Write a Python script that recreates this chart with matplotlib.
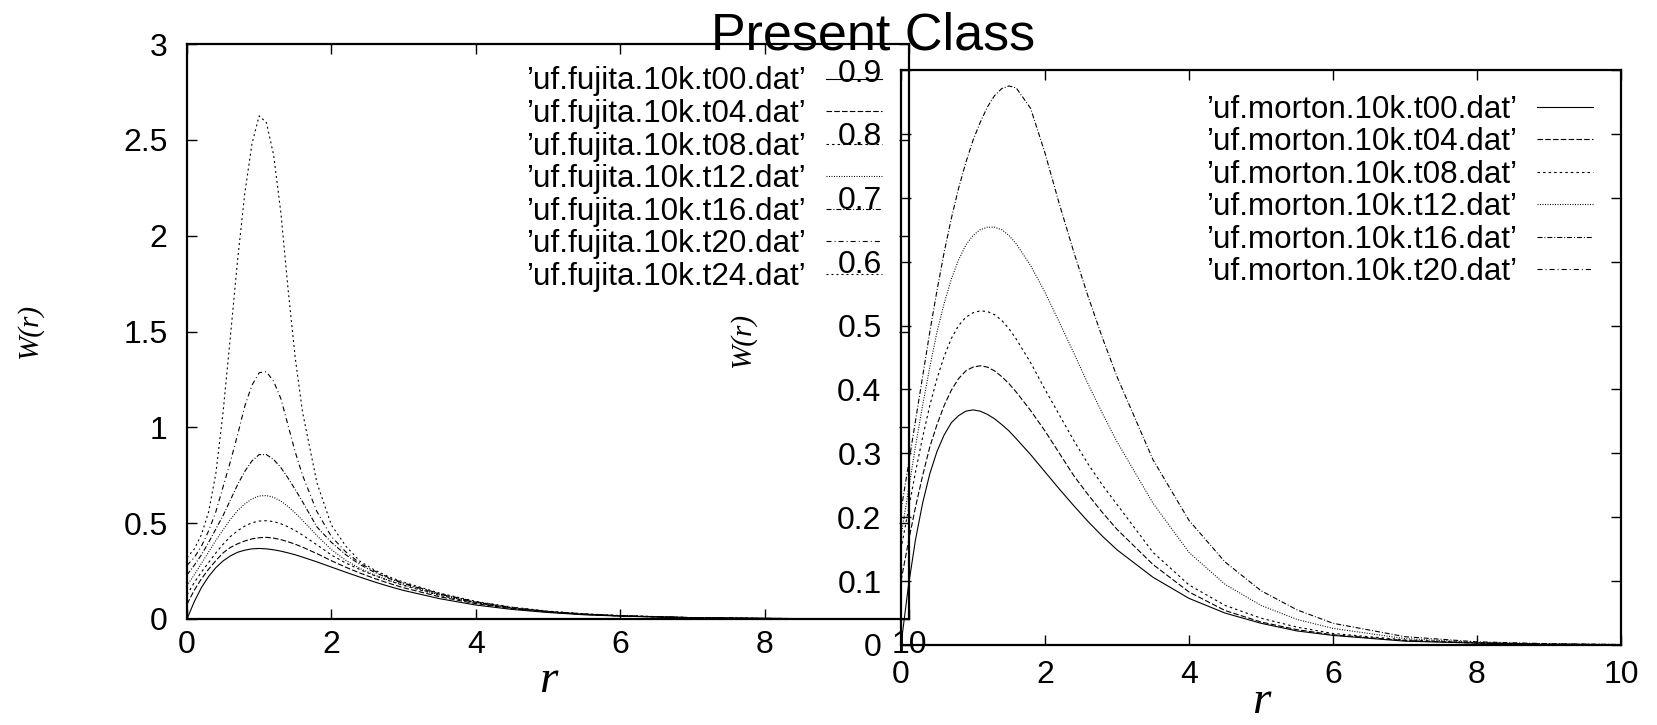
import matplotlib.pyplot as plt

plt.rcParams['font.family'] = ['Liberation Sans', 'DejaVu Sans']
plt.rcParams['lines.scale_dashes'] = False

# radius samples
r = [0, 0.1, 0.2, 0.3, 0.4, 0.5, 0.6, 0.7, 0.8, 0.9, 1.0, 1.1, 1.2, 1.3, 1.4, 1.5, 1.6,
     1.8, 2.0, 2.2, 2.4, 2.6, 2.8, 3.0, 3.5, 4.0, 4.5, 5.0, 5.5, 6.0, 7.0, 8.0, 9.0, 10.0]

# left panel (fujita)
fujita_t00 = [0, 0.090, 0.164, 0.222, 0.268, 0.303, 0.329, 0.348, 0.359, 0.366, 0.368, 0.366, 0.361, 0.354, 0.345, 0.335, 0.323,
              0.298, 0.271, 0.244, 0.218, 0.193, 0.170, 0.149, 0.106, 0.073, 0.050, 0.034, 0.022, 0.015, 0.006, 0.003, 0.001, 0.0005]
fujita_t04 = [0.077, 0.15, 0.21, 0.26, 0.305, 0.345, 0.373, 0.392, 0.407, 0.418, 0.424, 0.426, 0.422, 0.414, 0.403, 0.390, 0.375,
              0.341, 0.304, 0.270, 0.239, 0.211, 0.186, 0.163, 0.116, 0.080, 0.054, 0.036, 0.024, 0.016, 0.007, 0.003, 0.0012, 0.0005]
fujita_t08 = [0.126, 0.19, 0.245, 0.295, 0.345, 0.39, 0.43, 0.46, 0.485, 0.502, 0.511, 0.513, 0.508, 0.497, 0.481, 0.461, 0.438,
              0.387, 0.334, 0.292, 0.257, 0.226, 0.199, 0.175, 0.123, 0.084, 0.056, 0.037, 0.025, 0.016, 0.007, 0.003, 0.0012, 0.0005]
fujita_t12 = [0.174, 0.23, 0.29, 0.35, 0.41, 0.465, 0.52, 0.565, 0.60, 0.627, 0.642, 0.644, 0.635, 0.615, 0.587, 0.553, 0.515,
              0.435, 0.362, 0.306, 0.263, 0.229, 0.201, 0.178, 0.126, 0.086, 0.058, 0.038, 0.025, 0.016, 0.007, 0.003, 0.0012, 0.0005]
fujita_t16 = [0.23, 0.28, 0.335, 0.40, 0.47, 0.54, 0.62, 0.70, 0.77, 0.825, 0.858, 0.858, 0.832, 0.79, 0.735, 0.675, 0.612,
              0.48, 0.40, 0.335, 0.283, 0.243, 0.211, 0.185, 0.130, 0.088, 0.059, 0.039, 0.026, 0.017, 0.007, 0.003, 0.0012, 0.0005]
fujita_t20 = [0.28, 0.32, 0.38, 0.46, 0.56, 0.69, 0.82, 0.96, 1.11, 1.22, 1.285, 1.29, 1.24, 1.15, 1.01, 0.87, 0.75,
              0.56, 0.43, 0.35, 0.29, 0.25, 0.215, 0.188, 0.132, 0.090, 0.060, 0.040, 0.026, 0.017, 0.007, 0.003, 0.0012, 0.0005]
fujita_t24 = [0.32, 0.365, 0.44, 0.56, 0.76, 1.08, 1.47, 1.87, 2.22, 2.48, 2.625, 2.59, 2.42, 2.12, 1.72, 1.36, 1.08,
              0.71, 0.49, 0.38, 0.30, 0.255, 0.22, 0.192, 0.135, 0.092, 0.062, 0.041, 0.027, 0.018, 0.007, 0.003, 0.0012, 0.0005]

# right panel (morton)
morton_t00 = [0, 0.090, 0.164, 0.222, 0.268, 0.303, 0.329, 0.348, 0.359, 0.366, 0.368, 0.366, 0.361, 0.354, 0.345, 0.335, 0.323,
              0.298, 0.271, 0.244, 0.218, 0.193, 0.170, 0.149, 0.106, 0.073, 0.050, 0.034, 0.022, 0.015, 0.006, 0.003, 0.001, 0.0005]
morton_t04 = [0.10, 0.16, 0.215, 0.265, 0.31, 0.345, 0.375, 0.399, 0.417, 0.429, 0.435, 0.437, 0.435, 0.429, 0.42, 0.409, 0.396,
              0.367, 0.335, 0.300, 0.265, 0.235, 0.207, 0.181, 0.126, 0.083, 0.054, 0.036, 0.024, 0.016, 0.007, 0.003, 0.0012, 0.0005]
morton_t08 = [0.15, 0.21, 0.27, 0.325, 0.375, 0.417, 0.452, 0.48, 0.50, 0.513, 0.52, 0.523, 0.522, 0.517, 0.508, 0.495, 0.479,
              0.442, 0.40, 0.36, 0.32, 0.283, 0.25, 0.22, 0.145, 0.094, 0.062, 0.042, 0.028, 0.018, 0.008, 0.0035, 0.0015, 0.0006]
morton_t12 = [0.17, 0.24, 0.31, 0.375, 0.435, 0.49, 0.535, 0.573, 0.603, 0.626, 0.641, 0.650, 0.654, 0.654, 0.650, 0.641, 0.628,
              0.594, 0.552, 0.505, 0.457, 0.408, 0.362, 0.318, 0.222, 0.145, 0.095, 0.062, 0.040, 0.026, 0.010, 0.004, 0.0015, 0.0006]
morton_t16 = [0.21, 0.28, 0.35, 0.42, 0.49, 0.555, 0.615, 0.668, 0.715, 0.755, 0.79, 0.818, 0.842, 0.86, 0.871, 0.875, 0.872,
              0.84, 0.77, 0.69, 0.615, 0.545, 0.48, 0.42, 0.29, 0.195, 0.13, 0.085, 0.055, 0.034, 0.013, 0.005, 0.002, 0.0008]
morton_t20 = []  # listed in the key, no curve visible in the plot

fujita_labels = ['\u2019uf.fujita.10k.t00.dat\u2019', '\u2019uf.fujita.10k.t04.dat\u2019',
                 '\u2019uf.fujita.10k.t08.dat\u2019', '\u2019uf.fujita.10k.t12.dat\u2019',
                 '\u2019uf.fujita.10k.t16.dat\u2019', '\u2019uf.fujita.10k.t20.dat\u2019',
                 '\u2019uf.fujita.10k.t24.dat\u2019']
morton_labels = ['\u2019uf.morton.10k.t00.dat\u2019', '\u2019uf.morton.10k.t04.dat\u2019',
                 '\u2019uf.morton.10k.t08.dat\u2019', '\u2019uf.morton.10k.t12.dat\u2019',
                 '\u2019uf.morton.10k.t16.dat\u2019', '\u2019uf.morton.10k.t20.dat\u2019']

# gnuplot-like dash types (points)
styles = ['-', (0, (4, 1.6)), (0, (1.8, 2.2)), (0, (0.7, 1.1)),
          (0, (3.6, 1.4, 0.7, 1.4)), (0, (3.6, 2.2, 0.7, 2.2)), (0, (1.4, 2.2))]

W, H = 1658, 725
fig = plt.figure(figsize=(W / 100, H / 100), dpi=100)
fig.patch.set_facecolor('white')

ax1 = fig.add_axes([187 / W, 1 - 619 / H, (909 - 187) / W, (619 - 44) / H])
ax2 = fig.add_axes([901 / W, 1 - 645 / H, (1621 - 901) / W, (645 - 70) / H])

fujita = [fujita_t00, fujita_t04, fujita_t08, fujita_t12, fujita_t16, fujita_t20, fujita_t24]
for y, lab, ls in zip(fujita, fujita_labels, styles):
    ax1.plot(r, y, color='black', lw=0.8, linestyle=ls, label=lab)

morton = [morton_t00, morton_t04, morton_t08, morton_t12, morton_t16]
for y, lab, ls in zip(morton, morton_labels, styles):
    ax2.plot(r, y, color='black', lw=0.8, linestyle=ls, label=lab)
ax2.plot(morton_t20, morton_t20, color='black', lw=0.8, linestyle=styles[5], label=morton_labels[5])

ax1.set_xlim(0, 10)
ax1.set_ylim(0, 3)
ax1.set_xticks(range(0, 11, 2))
ax1.set_yticks([0, 0.5, 1, 1.5, 2, 2.5, 3])
ax1.set_yticklabels(['0', '0.5', '1', '1.5', '2', '2.5', '3'])

ax2.set_xlim(0, 10)
ax2.set_ylim(0, 0.9)
ax2.set_xticks(range(0, 11, 2))
ax2.set_yticks([0, 0.1, 0.2, 0.3, 0.4, 0.5, 0.6, 0.7, 0.8, 0.9])
ax2.set_yticklabels(['0', '0.1', '0.2', '0.3', '0.4', '0.5', '0.6', '0.7', '0.8', '0.9'])

for ax in (ax1, ax2):
    ax.set_facecolor('none')
    ax.tick_params(direction='in', length=7, width=1.0, top=True, right=True,
                   labelsize=23, colors='black')
    ax.tick_params(axis='y', pad=14)
    for s in ax.spines.values():
        s.set_linewidth(1.6)
ax1.tick_params(axis='x', pad=8)
ax2.tick_params(axis='x', pad=11)

serif = dict(family=['Liberation Serif', 'DejaVu Serif'], style='italic')
ax1.set_xlabel('r', fontsize=34, **serif)
ax1.xaxis.set_label_coords(0.5, -0.127)
ax1.xaxis.label.set_va('baseline')
ax2.set_xlabel('r', fontsize=34, **serif)
ax2.xaxis.set_label_coords(0.5, -0.118)
ax2.xaxis.label.set_va('baseline')

ax1.set_ylabel('W(r)', fontsize=21, **serif)
ax1.yaxis.set_label_coords(-0.2175, 0.5)
ax1.yaxis.label.set_va('center')
ax2.set_ylabel('W(r)', fontsize=21, **serif)
ax2.yaxis.set_label_coords(-0.2194, 0.53)
ax2.yaxis.label.set_va('center')

leg_kw = dict(loc='upper right', bbox_transform=fig.transFigure, frameon=False, markerfirst=False,
              fontsize=22.6, handlelength=1.79, handletextpad=0.64, labelspacing=0.08,
              borderpad=0, borderaxespad=0)
ax1.legend(bbox_to_anchor=(882 / W, 1 - 66.5 / H), **leg_kw)
ax2.legend(bbox_to_anchor=(1593 / W, 1 - 94.8 / H), **leg_kw)

fig.text(873 / W, 1 - 49.7 / H, 'Present Class', ha='center', va='baseline', fontsize=37.5)

fig.savefig('out.png', dpi=100)
